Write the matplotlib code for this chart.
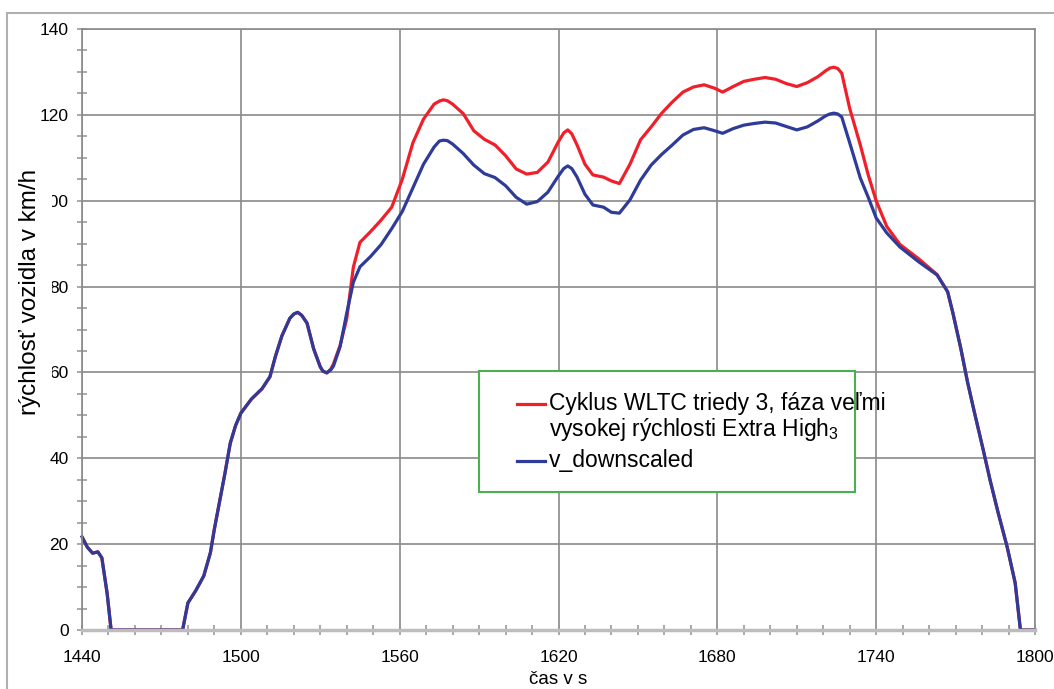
import matplotlib
matplotlib.use("Agg")
import matplotlib.pyplot as plt
from matplotlib.lines import Line2D
from matplotlib.patches import Rectangle
from matplotlib.ticker import MultipleLocator

plt.rcParams['font.family'] = ['Liberation Sans', 'DejaVu Sans']
plt.rcParams['mathtext.fontset'] = 'custom'
plt.rcParams['mathtext.rm'] = 'Liberation Sans'

# time in s
time_s = [1440, 1442, 1444, 1446, 1447.5, 1449.5, 1451, 1478, 1480, 1483, 1486,
          1488.5, 1490, 1492, 1494, 1496, 1498, 1500, 1504, 1508, 1511, 1513,
          1515.5, 1518.5, 1520, 1521.5, 1523, 1525, 1527.5, 1530, 1531, 1532.5,
          1534, 1535, 1537.5, 1540, 1542.5, 1545, 1549, 1553, 1557, 1561, 1565,
          1569, 1573, 1575, 1576.5, 1578, 1580, 1584, 1588, 1592, 1596, 1600,
          1604, 1608, 1612, 1616, 1620, 1622, 1623.5, 1625, 1627, 1630, 1633,
          1637, 1640, 1643, 1647, 1651, 1655, 1659, 1663, 1667, 1671, 1675, 1679,
          1682, 1686, 1690, 1694, 1698, 1702, 1706, 1710, 1714, 1718, 1721,
          1722.5, 1724, 1725.5, 1727, 1730, 1734, 1737, 1740, 1744, 1749, 1756,
          1763, 1767, 1769, 1772, 1774.5, 1777, 1780.5, 1783, 1786, 1789.5,
          1792.5, 1794.5, 1800]

# WLTC class 3, extra high phase (km/h)
v_wltc = [21.7, 19.3, 17.9, 18.2, 16.8, 8.5, 0, 0, 6.3, 9.2, 12.6,
          18, 23.5, 30, 36.5, 43.5, 47.6, 50.5, 53.8, 56.2, 59, 63.6,
          68.5, 72.6, 73.6, 74, 73.3, 71.5, 65.5, 61.3, 60.3, 59.9,
          60.8, 62.0, 66.3, 72.5, 84.5, 90.3, 92.8, 95.5, 98.5, 105, 113.5,
          119, 122.5, 123.2, 123.5, 123.3, 122.5, 120.3, 116.3, 114.3, 113, 110.5,
          107.4, 106.2, 106.6, 109, 113.8, 115.8, 116.5, 115.6, 113, 108.5, 106,
          105.5, 104.6, 104, 108.5, 114.2, 117.2, 120.4, 123, 125.3, 126.5, 127, 126.2,
          125.3, 126.6, 127.8, 128.3, 128.7, 128.3, 127.3, 126.6, 127.5, 128.9, 130.3,
          130.9, 131.1, 130.8, 129.7, 121.5, 113, 106, 100, 94, 89.8, 86.5,
          82.8, 78.8, 73.8, 65.5, 57.8, 51, 41.8, 35, 27.5, 19.3,
          11, 0, 0]

# downscaled cycle (km/h)
v_downscaled = [21.7, 19.3, 17.9, 18.2, 16.8, 8.5, 0, 0, 6.3, 9.2, 12.6,
                18, 23.5, 30, 36.5, 43.5, 47.6, 50.5, 53.8, 56.2, 59, 63.6,
                68.5, 72.6, 73.6, 74, 73.3, 71.5, 65.5, 61.3, 60.3, 59.9,
                60.6, 61.5, 66, 73.8, 81, 84.6, 87, 89.8, 93.5, 97.5, 103,
                108.5, 112.5, 113.9, 114.1, 114, 113.2, 111, 108.3, 106.3, 105.4, 103.5,
                100.8, 99.2, 99.8, 102, 105.8, 107.5, 108.1, 107.5, 105.5, 101.5, 99,
                98.5, 97.3, 97.1, 100.2, 104.8, 108.3, 110.8, 113, 115.3, 116.6, 117, 116.3,
                115.7, 116.8, 117.6, 118, 118.3, 118.1, 117.3, 116.5, 117.2, 118.6, 119.8,
                120.2, 120.4, 120.2, 119.5, 113.5, 105.3, 100.8, 96, 92.5, 89.2, 85.8,
                82.7, 78.8, 73.8, 65.5, 57.8, 51, 41.8, 35, 27.5, 19.3,
                11, 0, 0]

label_wltc = 'Cyklus WLTC triedy 3, fáza veľmi\nvysokej rýchlosti Extra High$_{\\mathrm{3}}$'
label_down = 'v_downscaled'

red = '#f0202a'
blue = '#2e3b98'

fig = plt.figure(figsize=(10.54, 6.89), dpi=100)
ax = fig.add_axes([82 / 1054, 1 - 630 / 689, 953 / 1054, 601 / 689])

ax.plot(time_s, v_wltc, color=red, lw=2.3)
ax.plot(time_s, v_downscaled, color=blue, lw=2.3, clip_on=False)

ax.set_xlim(1440, 1800)
ax.set_ylim(0, 140)
ax.xaxis.set_major_locator(MultipleLocator(60))
ax.xaxis.set_minor_locator(MultipleLocator(10))
ax.yaxis.set_major_locator(MultipleLocator(20))
ax.yaxis.set_minor_locator(MultipleLocator(5))

grid_col = '#8a8a8a'
ax.grid(True, which='major', color=grid_col, lw=1.2)
ax.set_axisbelow(True)
for side in ['left', 'top', 'right']:
    ax.spines[side].set_color(grid_col)
    ax.spines[side].set_linewidth(1.2)
ax.spines['bottom'].set_color('#bdbdbd')
ax.spines['bottom'].set_linewidth(2.5)

ax.tick_params(which='both', direction='inout', color='#9a9a9a', width=1.2)
ax.tick_params(which='major', length=7, labelsize=12.5, pad=6)
ax.tick_params(which='minor', length=7)
ax.tick_params(axis='x', pad=11)

ax.set_xlabel('čas v s', fontsize=13.5, labelpad=4)

# y label sits over the tick labels with a white box (as in the original)
fig.text(30 / 1054, 1 - 292 / 689, 'rýchlosť vozidla v km/h', rotation=90,
         fontsize=17.5, ha='center', va='center', zorder=10,
         bbox=dict(facecolor='white', edgecolor='none', pad=8))

# legend drawn by hand so the red key lines up with the first text line
def axpt(px, py):
    return (px - 82) / 953, (630 - py) / 601

x0, y0 = axpt(479, 492)
x1, y1 = axpt(855, 371)
ax.add_patch(Rectangle((x0, y0), x1 - x0, y1 - y0, transform=ax.transAxes,
                       facecolor='white', edgecolor='#4cb050', lw=1.5, zorder=5))
for color, py, text in [(red, 404, label_wltc), (blue, 461, label_down)]:
    hx0, hy = axpt(517, py)
    hx1, _ = axpt(545, py)
    ax.add_line(Line2D([hx0, hx1], [hy, hy], transform=ax.transAxes,
                       color=color, lw=2.3, zorder=6))
    tx, ty = axpt(549, py - 12)
    ax.text(tx, ty, text, transform=ax.transAxes, fontsize=16.5,
            ha='left', va='top', linespacing=1.05, zorder=6)

# outer chart frame
fig.add_artist(Rectangle((7 / 1054, -0.05), 1.1, 1 - 13 / 689 + 0.05,
                         transform=fig.transFigure, fill=False,
                         edgecolor='#b0b0b0', lw=1.5, zorder=20))

fig.savefig('out.png', dpi=100)
